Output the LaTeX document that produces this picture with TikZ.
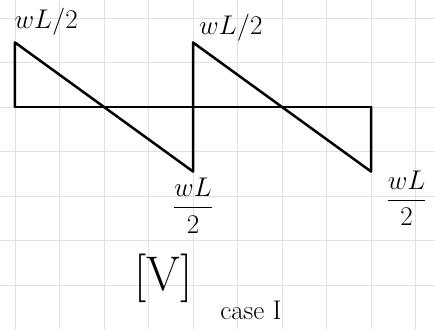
\documentclass[tikz,border=0pt]{standalone}
\usepackage{amsmath}
\usetikzlibrary{positioning}
\begin{document}
\begin{tikzpicture}[
  shear/.style={line width=1.6pt,line join=round,line cap=round},
  paper/.style={draw=black!12,line width=0.4pt},
  lbl/.style={inner sep=1pt,font=\LARGE}
]
\useasboundingbox (-0.337,-4.989) rectangle (9.438,2.404);
\draw[paper] (-0.337,-4.989) grid (9.438,2.404);
% shear diagram points
\coordinate (o) at (0,0);
\coordinate (t1) at (0,1.45);
\coordinate (m) at (4,0);
\coordinate (t2) at (4,1.45);
\coordinate (b1) at (4,-1.45);
\coordinate (e) at (8,0);
\coordinate (b2) at (8,-1.45);
\draw[shear] (o) -- (t1) -- (b1) -- (t2) -- (b2) -- (e);
\draw[shear] (o) -- (e);
% values
\node[lbl] (v1) at (0.7,1.91) {$wL/2$};
\node[lbl] (v2) at (4.85,1.78) {$wL/2$};
\node[lbl,below=0.1 of b1] (v3) {$\dfrac{wL}{2}$};
\node[lbl] (v4) at (8.8,-2.05) {$\dfrac{wL}{2}$};
\node[font=\Huge,scale=1.25] (vl) at (3.33,-3.84) {$[\mathrm{V}]$};
\node[lbl] (cs) at (5.3,-4.56) {case I};
\end{tikzpicture}
\end{document}
